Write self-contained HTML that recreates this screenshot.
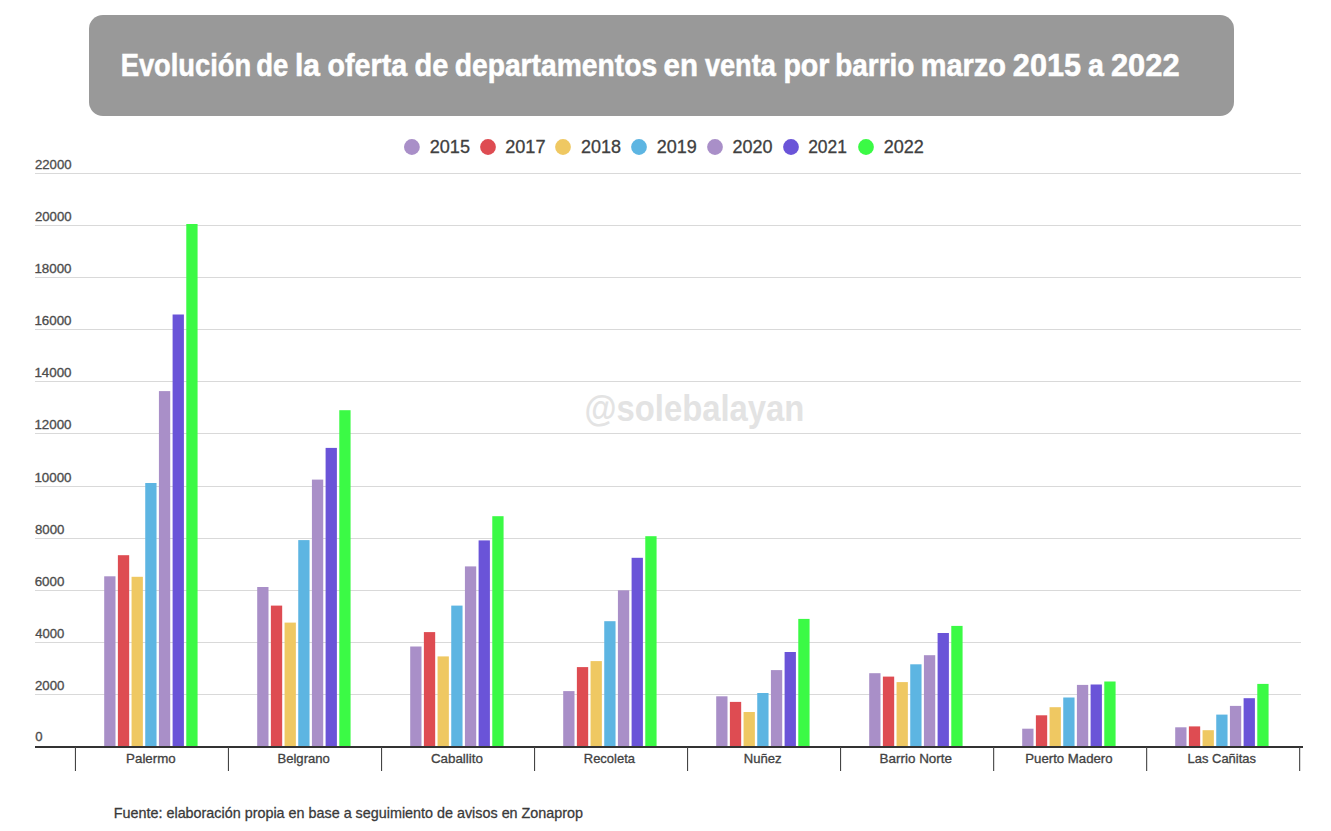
<!DOCTYPE html><html><head><meta charset="utf-8"><style>html,body{margin:0;padding:0;background:#fff;width:1331px;height:831px;overflow:hidden}svg{display:block}text{font-family:"Liberation Sans", sans-serif}</style></head><body>
<svg width="1331" height="831" viewBox="0 0 1331 831">
<rect x="0" y="0" width="1331" height="831" fill="#fff"/>
<rect x="89" y="15" width="1145" height="101" rx="14" ry="14" fill="#999999"/>
<circle cx="411.9" cy="147" r="7.9" fill="#a98fc8"/>
<circle cx="488" cy="147" r="7.9" fill="#de4c52"/>
<circle cx="563" cy="147" r="7.9" fill="#efc862"/>
<circle cx="639" cy="147" r="7.9" fill="#5db5e2"/>
<circle cx="715" cy="147" r="7.9" fill="#a98fc8"/>
<circle cx="791" cy="147" r="7.9" fill="#6a54d8"/>
<circle cx="866" cy="147" r="7.9" fill="#3bfa45"/>
<rect x="35" y="694" width="1266" height="1" fill="#d9d9d9"/>
<rect x="35" y="642" width="1266" height="1" fill="#d9d9d9"/>
<rect x="35" y="590" width="1266" height="1" fill="#d9d9d9"/>
<rect x="35" y="538" width="1266" height="1" fill="#d9d9d9"/>
<rect x="35" y="486" width="1266" height="1" fill="#d9d9d9"/>
<rect x="35" y="433" width="1266" height="1" fill="#d9d9d9"/>
<rect x="35" y="381" width="1266" height="1" fill="#d9d9d9"/>
<rect x="35" y="329" width="1266" height="1" fill="#d9d9d9"/>
<rect x="35" y="277" width="1266" height="1" fill="#d9d9d9"/>
<rect x="35" y="225" width="1266" height="1" fill="#d9d9d9"/>
<rect x="35" y="173" width="1266" height="1" fill="#d9d9d9"/>
<rect x="104.20" y="576.3" width="11.3" height="170.2" fill="#a98fc8"/>
<rect x="117.88" y="555.2" width="11.3" height="191.3" fill="#de4c52"/>
<rect x="131.56" y="576.8" width="11.3" height="169.7" fill="#efc862"/>
<rect x="145.24" y="483.0" width="11.3" height="263.5" fill="#5db5e2"/>
<rect x="158.92" y="391.1" width="11.3" height="355.4" fill="#a98fc8"/>
<rect x="172.60" y="314.5" width="11.3" height="432.0" fill="#6a54d8"/>
<rect x="186.28" y="224.0" width="11.3" height="522.5" fill="#3bfa45"/>
<rect x="257.20" y="587.0" width="11.3" height="159.5" fill="#a98fc8"/>
<rect x="270.88" y="605.6" width="11.3" height="140.9" fill="#de4c52"/>
<rect x="284.56" y="622.6" width="11.3" height="123.9" fill="#efc862"/>
<rect x="298.24" y="540.1" width="11.3" height="206.4" fill="#5db5e2"/>
<rect x="311.92" y="479.6" width="11.3" height="266.9" fill="#a98fc8"/>
<rect x="325.60" y="447.9" width="11.3" height="298.6" fill="#6a54d8"/>
<rect x="339.28" y="410.2" width="11.3" height="336.3" fill="#3bfa45"/>
<rect x="410.20" y="646.5" width="11.3" height="100.0" fill="#a98fc8"/>
<rect x="423.88" y="632.1" width="11.3" height="114.4" fill="#de4c52"/>
<rect x="437.56" y="656.4" width="11.3" height="90.1" fill="#efc862"/>
<rect x="451.24" y="605.6" width="11.3" height="140.9" fill="#5db5e2"/>
<rect x="464.92" y="566.4" width="11.3" height="180.1" fill="#a98fc8"/>
<rect x="478.60" y="540.4" width="11.3" height="206.1" fill="#6a54d8"/>
<rect x="492.28" y="516.2" width="11.3" height="230.3" fill="#3bfa45"/>
<rect x="563.20" y="691.1" width="11.3" height="55.4" fill="#a98fc8"/>
<rect x="576.88" y="667.1" width="11.3" height="79.4" fill="#de4c52"/>
<rect x="590.56" y="661.1" width="11.3" height="85.4" fill="#efc862"/>
<rect x="604.24" y="621.2" width="11.3" height="125.3" fill="#5db5e2"/>
<rect x="617.92" y="590.3" width="11.3" height="156.2" fill="#a98fc8"/>
<rect x="631.60" y="557.8" width="11.3" height="188.7" fill="#6a54d8"/>
<rect x="645.28" y="536.2" width="11.3" height="210.3" fill="#3bfa45"/>
<rect x="716.20" y="696.3" width="11.3" height="50.2" fill="#a98fc8"/>
<rect x="729.88" y="701.9" width="11.3" height="44.6" fill="#de4c52"/>
<rect x="743.56" y="712.0" width="11.3" height="34.5" fill="#efc862"/>
<rect x="757.24" y="693.0" width="11.3" height="53.5" fill="#5db5e2"/>
<rect x="770.92" y="670.1" width="11.3" height="76.4" fill="#a98fc8"/>
<rect x="784.60" y="652.0" width="11.3" height="94.5" fill="#6a54d8"/>
<rect x="798.28" y="618.9" width="11.3" height="127.6" fill="#3bfa45"/>
<rect x="869.20" y="673.2" width="11.3" height="73.3" fill="#a98fc8"/>
<rect x="882.88" y="676.6" width="11.3" height="69.9" fill="#de4c52"/>
<rect x="896.56" y="682.1" width="11.3" height="64.4" fill="#efc862"/>
<rect x="910.24" y="664.3" width="11.3" height="82.2" fill="#5db5e2"/>
<rect x="923.92" y="655.2" width="11.3" height="91.3" fill="#a98fc8"/>
<rect x="937.60" y="633.0" width="11.3" height="113.5" fill="#6a54d8"/>
<rect x="951.28" y="625.9" width="11.3" height="120.6" fill="#3bfa45"/>
<rect x="1022.20" y="728.7" width="11.3" height="17.8" fill="#a98fc8"/>
<rect x="1035.88" y="715.3" width="11.3" height="31.2" fill="#de4c52"/>
<rect x="1049.56" y="707.2" width="11.3" height="39.3" fill="#efc862"/>
<rect x="1063.24" y="697.5" width="11.3" height="49.0" fill="#5db5e2"/>
<rect x="1076.92" y="684.9" width="11.3" height="61.6" fill="#a98fc8"/>
<rect x="1090.60" y="684.5" width="11.3" height="62.0" fill="#6a54d8"/>
<rect x="1104.28" y="681.5" width="11.3" height="65.0" fill="#3bfa45"/>
<rect x="1175.20" y="727.3" width="11.3" height="19.2" fill="#a98fc8"/>
<rect x="1188.88" y="726.4" width="11.3" height="20.1" fill="#de4c52"/>
<rect x="1202.56" y="730.2" width="11.3" height="16.3" fill="#efc862"/>
<rect x="1216.24" y="714.6" width="11.3" height="31.9" fill="#5db5e2"/>
<rect x="1229.92" y="705.9" width="11.3" height="40.6" fill="#a98fc8"/>
<rect x="1243.60" y="698.2" width="11.3" height="48.3" fill="#6a54d8"/>
<rect x="1257.28" y="683.9" width="11.3" height="62.6" fill="#3bfa45"/>
<rect x="35" y="746" width="1268" height="2" fill="#333"/>
<rect x="74.9" y="747" width="1.1" height="24" fill="#444"/>
<rect x="227.9" y="747" width="1.1" height="24" fill="#444"/>
<rect x="381.0" y="747" width="1.1" height="24" fill="#444"/>
<rect x="534.0" y="747" width="1.1" height="24" fill="#444"/>
<rect x="687.0" y="747" width="1.1" height="24" fill="#444"/>
<rect x="840.0" y="747" width="1.1" height="24" fill="#444"/>
<rect x="993.1" y="747" width="1.1" height="24" fill="#444"/>
<rect x="1146.1" y="747" width="1.1" height="24" fill="#444"/>
<rect x="1299.1" y="747" width="1.1" height="24" fill="#444"/>
<text x="120.67" y="76.0" font-size="31.6" font-weight="bold" stroke="#ffffff" stroke-width="0.55" fill="#ffffff" textLength="130.54" lengthAdjust="spacingAndGlyphs">Evolución</text>
<text x="256.31" y="76.0" font-size="31.6" font-weight="bold" stroke="#ffffff" stroke-width="0.55" fill="#ffffff" textLength="32.07" lengthAdjust="spacingAndGlyphs">de</text>
<text x="294.97" y="76.0" font-size="31.6" font-weight="bold" stroke="#ffffff" stroke-width="0.55" fill="#ffffff" textLength="25.00" lengthAdjust="spacingAndGlyphs">la</text>
<text x="327.57" y="76.0" font-size="31.6" font-weight="bold" stroke="#ffffff" stroke-width="0.55" fill="#ffffff" textLength="79.54" lengthAdjust="spacingAndGlyphs">oferta</text>
<text x="414.46" y="76.0" font-size="31.6" font-weight="bold" stroke="#ffffff" stroke-width="0.55" fill="#ffffff" textLength="33.78" lengthAdjust="spacingAndGlyphs">de</text>
<text x="454.68" y="76.0" font-size="31.6" font-weight="bold" stroke="#ffffff" stroke-width="0.55" fill="#ffffff" textLength="202.54" lengthAdjust="spacingAndGlyphs">departamentos</text>
<text x="663.53" y="76.0" font-size="31.6" font-weight="bold" stroke="#ffffff" stroke-width="0.55" fill="#ffffff" textLength="34.42" lengthAdjust="spacingAndGlyphs">en</text>
<text x="704.88" y="76.0" font-size="31.6" font-weight="bold" stroke="#ffffff" stroke-width="0.55" fill="#ffffff" textLength="71.04" lengthAdjust="spacingAndGlyphs">venta</text>
<text x="783.39" y="76.0" font-size="31.6" font-weight="bold" stroke="#ffffff" stroke-width="0.55" fill="#ffffff" textLength="46.07" lengthAdjust="spacingAndGlyphs">por</text>
<text x="835.23" y="76.0" font-size="31.6" font-weight="bold" stroke="#ffffff" stroke-width="0.55" fill="#ffffff" textLength="79.12" lengthAdjust="spacingAndGlyphs">barrio</text>
<text x="920.67" y="76.0" font-size="31.6" font-weight="bold" stroke="#ffffff" stroke-width="0.55" fill="#ffffff" textLength="85.34" lengthAdjust="spacingAndGlyphs">marzo</text>
<text x="1012.83" y="76.0" font-size="31.6" font-weight="bold" stroke="#ffffff" stroke-width="0.55" fill="#ffffff" textLength="68.24" lengthAdjust="spacingAndGlyphs">2015</text>
<text x="1088.00" y="76.0" font-size="31.6" font-weight="bold" stroke="#ffffff" stroke-width="0.55" fill="#ffffff" textLength="15.84" lengthAdjust="spacingAndGlyphs">a</text>
<text x="1110.92" y="76.0" font-size="31.6" font-weight="bold" stroke="#ffffff" stroke-width="0.55" fill="#ffffff" textLength="68.64" lengthAdjust="spacingAndGlyphs">2022</text>
<text x="429.69" y="152.9" font-size="18" stroke="#404040" stroke-width="0.3" fill="#404040" textLength="40.30" lengthAdjust="spacingAndGlyphs">2015</text>
<text x="505.19" y="152.9" font-size="18" stroke="#404040" stroke-width="0.3" fill="#404040" textLength="40.30" lengthAdjust="spacingAndGlyphs">2017</text>
<text x="581.00" y="152.9" font-size="18" stroke="#404040" stroke-width="0.3" fill="#404040" textLength="39.99" lengthAdjust="spacingAndGlyphs">2018</text>
<text x="656.80" y="152.9" font-size="18" stroke="#404040" stroke-width="0.3" fill="#404040" textLength="40.10" lengthAdjust="spacingAndGlyphs">2019</text>
<text x="732.40" y="152.9" font-size="18" stroke="#404040" stroke-width="0.3" fill="#404040" textLength="39.99" lengthAdjust="spacingAndGlyphs">2020</text>
<text x="808.13" y="152.9" font-size="18" stroke="#404040" stroke-width="0.3" fill="#404040" textLength="38.84" lengthAdjust="spacingAndGlyphs">2021</text>
<text x="883.70" y="152.9" font-size="18" stroke="#404040" stroke-width="0.3" fill="#404040" textLength="40.20" lengthAdjust="spacingAndGlyphs">2022</text>
<text x="34.96" y="690.1" font-size="12.2" stroke="#4c4c4c" stroke-width="0.3" fill="#4c4c4c" textLength="29.45" lengthAdjust="spacingAndGlyphs">2000</text>
<text x="35.23" y="638.1" font-size="12.2" stroke="#4c4c4c" stroke-width="0.3" fill="#4c4c4c" textLength="29.17" lengthAdjust="spacingAndGlyphs">4000</text>
<text x="34.68" y="586.1" font-size="12.2" stroke="#4c4c4c" stroke-width="0.3" fill="#4c4c4c" textLength="29.73" lengthAdjust="spacingAndGlyphs">6000</text>
<text x="34.96" y="534.1" font-size="12.2" stroke="#4c4c4c" stroke-width="0.3" fill="#4c4c4c" textLength="29.45" lengthAdjust="spacingAndGlyphs">8000</text>
<text x="34.40" y="482.1" font-size="12.2" stroke="#4c4c4c" stroke-width="0.3" fill="#4c4c4c" textLength="37.16" lengthAdjust="spacingAndGlyphs">10000</text>
<text x="34.40" y="429.1" font-size="12.2" stroke="#4c4c4c" stroke-width="0.3" fill="#4c4c4c" textLength="37.16" lengthAdjust="spacingAndGlyphs">12000</text>
<text x="34.40" y="377.1" font-size="12.2" stroke="#4c4c4c" stroke-width="0.3" fill="#4c4c4c" textLength="37.16" lengthAdjust="spacingAndGlyphs">14000</text>
<text x="34.40" y="325.1" font-size="12.2" stroke="#4c4c4c" stroke-width="0.3" fill="#4c4c4c" textLength="37.16" lengthAdjust="spacingAndGlyphs">16000</text>
<text x="34.40" y="273.1" font-size="12.2" stroke="#4c4c4c" stroke-width="0.3" fill="#4c4c4c" textLength="37.16" lengthAdjust="spacingAndGlyphs">18000</text>
<text x="34.96" y="221.1" font-size="12.2" stroke="#4c4c4c" stroke-width="0.3" fill="#4c4c4c" textLength="36.60" lengthAdjust="spacingAndGlyphs">20000</text>
<text x="34.96" y="169.1" font-size="12.2" stroke="#4c4c4c" stroke-width="0.3" fill="#4c4c4c" textLength="36.60" lengthAdjust="spacingAndGlyphs">22000</text>
<text x="35.16" y="741.4" font-size="12.2" stroke="#4c4c4c" stroke-width="0.3" fill="#4c4c4c" textLength="7.32" lengthAdjust="spacingAndGlyphs">0</text>
<text x="126.14" y="762.8" font-size="12.6" stroke="#424242" stroke-width="0.3" fill="#424242" textLength="49.55" lengthAdjust="spacingAndGlyphs">Palermo</text>
<text x="277.46" y="762.8" font-size="12.6" stroke="#424242" stroke-width="0.3" fill="#424242" textLength="52.39" lengthAdjust="spacingAndGlyphs">Belgrano</text>
<text x="430.90" y="762.8" font-size="12.6" stroke="#424242" stroke-width="0.3" fill="#424242" textLength="52.05" lengthAdjust="spacingAndGlyphs">Caballito</text>
<text x="583.77" y="762.8" font-size="12.6" stroke="#424242" stroke-width="0.3" fill="#424242" textLength="51.20" lengthAdjust="spacingAndGlyphs">Recoleta</text>
<text x="743.76" y="762.8" font-size="12.6" stroke="#424242" stroke-width="0.3" fill="#424242" textLength="37.83" lengthAdjust="spacingAndGlyphs">Nuñez</text>
<text x="879.63" y="762.8" font-size="12.6" stroke="#424242" stroke-width="0.3" fill="#424242" textLength="72.37" lengthAdjust="spacingAndGlyphs">Barrio Norte</text>
<text x="1025.25" y="762.8" font-size="12.6" stroke="#424242" stroke-width="0.3" fill="#424242" textLength="87.36" lengthAdjust="spacingAndGlyphs">Puerto Madero</text>
<text x="1187.57" y="762.8" font-size="12.6" stroke="#424242" stroke-width="0.3" fill="#424242" textLength="68.37" lengthAdjust="spacingAndGlyphs">Las Cañitas</text>
<text x="113.80" y="817.8" font-size="15" stroke="#3a3a3a" stroke-width="0.3" fill="#3a3a3a" textLength="469.25" lengthAdjust="spacingAndGlyphs">Fuente: elaboración propia en base a seguimiento de avisos en Zonaprop</text>
<text x="584.52" y="420.8" font-size="37.3" font-weight="bold" fill="#e3e3e3" textLength="219.89" lengthAdjust="spacingAndGlyphs">@solebalayan</text>
</svg></body></html>
